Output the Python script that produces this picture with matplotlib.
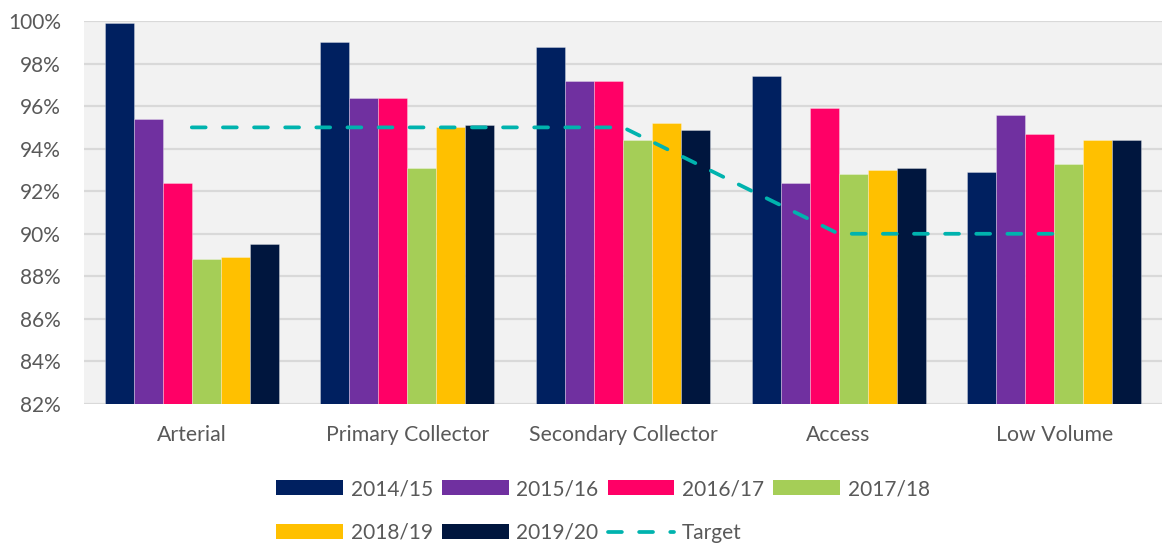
import matplotlib
matplotlib.use("Agg")
import matplotlib.pyplot as plt
from matplotlib.patches import Patch
from matplotlib.lines import Line2D
import numpy as np

plt.rcParams['font.family'] = ['Lato', 'DejaVu Sans']

categories = ["Arterial", "Primary Collector", "Secondary Collector", "Access", "Low Volume"]
years = ["2014/15", "2015/16", "2016/17", "2017/18", "2018/19", "2019/20"]

v_2014_15 = [99.9, 99.0, 98.8, 97.4, 92.9]
v_2015_16 = [95.4, 96.4, 97.2, 92.4, 95.6]
v_2016_17 = [92.4, 96.4, 97.2, 95.9, 94.7]
v_2017_18 = [88.8, 93.1, 94.4, 92.8, 93.3]
v_2018_19 = [88.9, 95.0, 95.2, 93.0, 94.4]
v_2019_20 = [89.5, 95.1, 94.9, 93.1, 94.4]
target = [95, 95, 95, 90, 90]

series = [v_2014_15, v_2015_16, v_2016_17, v_2017_18, v_2018_19, v_2019_20]
colors = ["#002060", "#7030A0", "#FF0066", "#A5CE57", "#FFC000", "#00163E"]
target_color = "#00B3AE"
text_color = "#595959"

fig = plt.figure(figsize=(11.66, 5.44), dpi=100)
ax = fig.add_axes([84 / 1166, 1 - 404 / 544, (1162 - 84) / 1166, (404 - 21) / 544])
ax.set_facecolor("#F2F2F2")

x = np.arange(len(categories))
bar_w = 0.1345
base = 82
bar_handles = []
for i, (vals, c) in enumerate(zip(series, colors)):
    offs = (i - 2.5) * bar_w
    heights = [v - base for v in vals]
    ax.bar(x + offs, heights, width=bar_w, bottom=base, color=c,
           edgecolor=(1, 1, 1, 0.35), linewidth=0.6, zorder=3)
    bar_handles.append(Patch(facecolor=c, edgecolor='none', label=years[i]))

lw = 2.7
dash = (3.7, 4.6)
tline, = ax.plot(x, target, color=target_color, lw=lw, zorder=4,
                 solid_capstyle='round', dash_capstyle='round')
tline.set_dashes(dash)

ax.set_xlim(-0.5, len(categories) - 0.5)
ax.set_ylim(82, 100)
ax.set_yticks(np.arange(82, 101, 2))
ax.set_yticklabels([f"{t}%" for t in range(82, 101, 2)])
ax.set_xticks(x)
ax.set_xticklabels(categories)
ax.grid(axis='y', color="#D9D9D9", lw=1.6, zorder=1)
ax.set_axisbelow(True)
for s in ax.spines.values():
    s.set_visible(False)
ax.tick_params(axis='both', length=0, colors=text_color, labelsize=15)
ax.tick_params(axis='x', labelsize=15.3)
ax.tick_params(axis='y', pad=16.5)
ax.tick_params(axis='x', pad=15)

target_handle = Line2D([0], [0], color=target_color, lw=lw,
                       dash_capstyle='round', label="Target")
target_handle.set_dashes(dash)

h = bar_handles + [target_handle]
order = [0, 4, 1, 5, 2, 6, 3]
leg = fig.legend([h[k] for k in order], [h[k].get_label() for k in order],
                 ncol=4, loc='center', bbox_to_anchor=(603 / 1166, 1 - 511 / 544),
                 frameon=False, fontsize=15, handlelength=3.2, handleheight=0.72,
                 handletextpad=0.38, columnspacing=0.43, labelspacing=1.15,
                 borderpad=0, borderaxespad=0)
for t in leg.get_texts():
    t.set_color(text_color)

fig.savefig("out.png", dpi=100, facecolor="white")
